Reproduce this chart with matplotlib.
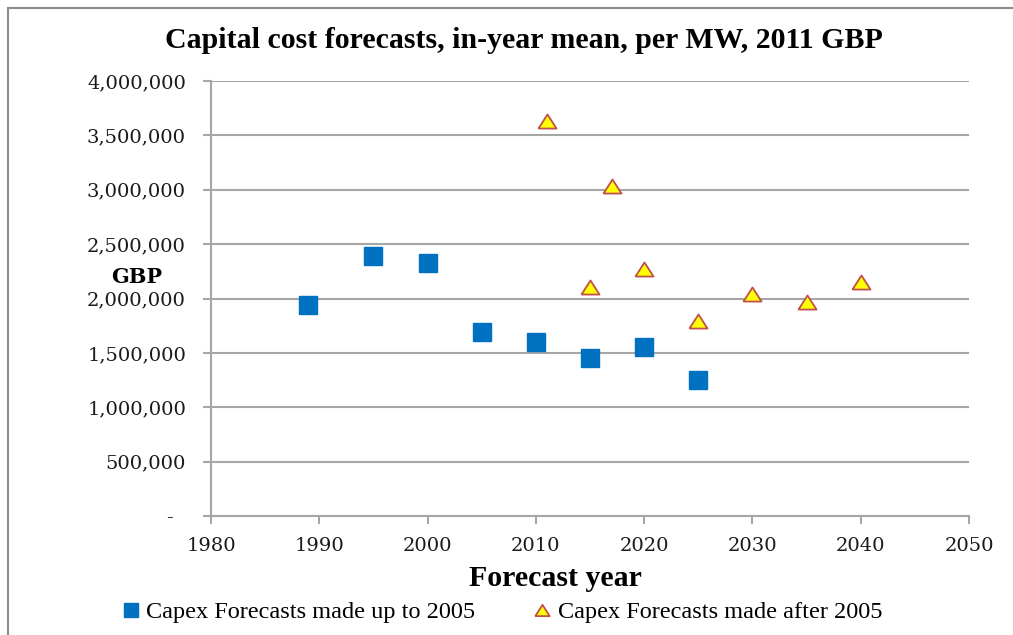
import numpy as np
import matplotlib
matplotlib.use("Agg")
import matplotlib.pyplot as plt
from matplotlib.patches import Rectangle
from matplotlib.ticker import FuncFormatter

# -----------------------------
# Data
# -----------------------------
years_before = [1989, 1995, 2000, 2005, 2010, 2015, 2020, 2025]
cost_before = [1940000, 2390000, 2330000, 1690000, 1600000, 1450000, 1555000, 1255000]

years_after = [2011, 2017, 2015, 2020, 2025, 2030, 2035, 2040]
cost_after = [3630000, 3030000, 2110000, 2270000, 1790000, 2040000, 1970000, 2150000]

label_before = "Capex Forecasts made up to 2005"
label_after = "Capex Forecasts made after 2005"

grid_col = "#A6A6A6"
serif_cond = "Liberation Serif"
serif_wide = "DejaVu Serif"
plt.rcParams["font.family"] = serif_wide

# -----------------------------
# Figure
# -----------------------------
fig = plt.figure(figsize=(10.13, 6.35), dpi=100)
fig.patch.set_facecolor("white")

# outer chart frame (only top/left visible)
fig.patches.append(Rectangle((8 / 1013, -0.1), 1.2, 1 - 8 / 635 + 0.1,
                             transform=fig.transFigure, fill=False,
                             edgecolor="#8C8C8C", linewidth=1.5))

ax = fig.add_axes([211 / 1013, 1 - 516 / 635, 758 / 1013, 435 / 635])

tri = [(-1, -0.78), (1, -0.78), (0, 0.78), (-1, -0.78)]
ax.plot(years_before, cost_before, linestyle="none", marker="s", markersize=12.5,
        color="#0070C0", markeredgecolor="#0070C0", label=label_before, zorder=3)
ax.plot(years_after, cost_after, linestyle="none", marker=tri, markersize=13,
        markerfacecolor="#FFFF00", markeredgecolor="#C0504D", markeredgewidth=1.3,
        label=label_after, zorder=3)

ax.set_xlim(1980, 2050)
ax.set_ylim(0, 4000000)
ax.set_xticks(np.arange(1980, 2051, 10))
ax.set_yticks(np.arange(0, 4000001, 500000))
ax.yaxis.set_major_formatter(FuncFormatter(lambda v, p: "-  " if v == 0 else f"{int(v):,}"))

ax.grid(axis="y", color=grid_col, linewidth=1.5)
ax.set_axisbelow(True)
for s in ["top", "right"]:
    ax.spines[s].set_visible(False)
for s in ["left", "bottom"]:
    ax.spines[s].set_color(grid_col)
    ax.spines[s].set_linewidth(1.5)
ax.tick_params(axis="both", direction="out", length=6, width=1.5, color=grid_col,
               labelsize=14, labelcolor="#1A1A1A")
ax.tick_params(axis="y", pad=12)
ax.tick_params(axis="x", pad=9)

fig.text(524 / 1013, 1 - 41 / 635, "Capital cost forecasts, in-year mean, per MW, 2011 GBP",
         ha="center", va="center", fontsize=21.5, fontweight="bold", family=serif_cond)
fig.text(555 / 1013, 1 - 578 / 635, "Forecast year", ha="center", va="center",
         fontsize=21.5, fontweight="bold", family=serif_cond)
fig.text(137 / 1013, 1 - 277 / 635, "GBP", ha="center", va="center",
         fontsize=15, fontweight="bold")

leg = fig.legend(loc="center left", bbox_to_anchor=(122 / 1013, 1 - 612 / 635), ncol=2,
                 frameon=False, prop={"family": serif_cond, "size": 17.5},
                 handlelength=0.7, handletextpad=0.3, columnspacing=2.4, numpoints=1,
                 markerscale=0.8, borderpad=0, borderaxespad=0)

fig.savefig("out.png", dpi=100, facecolor="white")
